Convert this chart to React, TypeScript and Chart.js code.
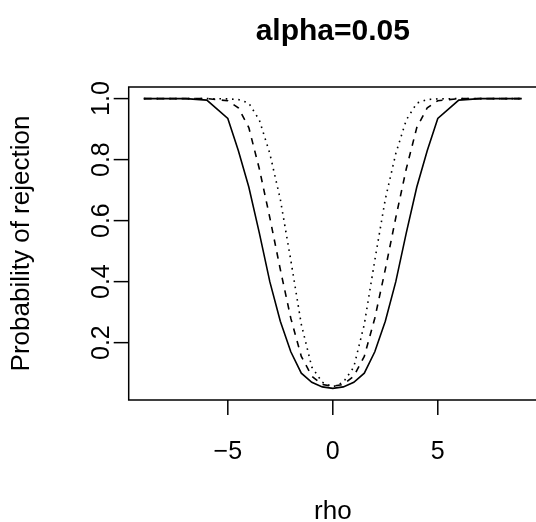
import React, { useEffect, useRef } from "react";
import { Chart, registerables } from "chart.js";

Chart.register(...registerables);

// ---- data ----
const rho = [-9, -8, -7, -6, -5, -4.5, -4, -3.5, -3, -2.5, -2, -1.5, -1, -0.5, 0, 0.5, 1, 1.5, 2, 2.5, 3, 3.5, 4, 4.5, 5, 6, 7, 8, 9];
const powerSolid = [1, 1, 1, 0.995, 0.935, 0.83, 0.71, 0.56, 0.4, 0.27, 0.17, 0.1, 0.07, 0.055, 0.05, 0.055, 0.07, 0.1, 0.17, 0.27, 0.4, 0.56, 0.71, 0.83, 0.935, 0.995, 1, 1, 1];
const powerDashed = [1, 1, 1, 1, 0.993, 0.97, 0.905, 0.77, 0.61, 0.44, 0.28, 0.155, 0.09, 0.063, 0.057, 0.063, 0.09, 0.155, 0.28, 0.44, 0.61, 0.77, 0.905, 0.97, 0.993, 1, 1, 1, 1];
const powerDotted = [1, 1, 1, 1, 0.999, 0.997, 0.985, 0.93, 0.82, 0.67, 0.47, 0.26, 0.12, 0.07, 0.055, 0.07, 0.12, 0.26, 0.47, 0.67, 0.82, 0.93, 0.985, 0.997, 0.999, 1, 1, 1, 1];

const xTicks = [-5, 0, 5];
const xTickLabels = ["\u22125", "0", "5"];
const yTicks = [0.2, 0.4, 0.6, 0.8, 1.0];
const yTickLabels = ["0.2", "0.4", "0.6", "0.8", "1.0"];

const titleText = "alpha=0.05";
const xTitle = "rho";
const yTitle = "Probability of rejection";

// ---- layout ----
const CW = 560;
const CH = 522;
const FONT = '"Liberation Sans", Arial, Helvetica, sans-serif';

const allY = [...powerSolid, ...powerDashed, ...powerDotted];
const xMinD = Math.min(...rho);
const xMaxD = Math.max(...rho);
const yMinD = Math.min(...allY);
const yMaxD = Math.max(...allY);
const xPad = (xMaxD - xMinD) * 0.04;
const yPad = (yMaxD - yMinD) * 0.04;

const rAxesPlugin = {
  id: "rAxes",
  afterDraw(chart: any) {
    const { ctx, chartArea } = chart;
    const xs = chart.scales.x;
    const ys = chart.scales.y;
    const { left, right, top, bottom } = chartArea;
    ctx.save();
    ctx.strokeStyle = "#000";
    ctx.fillStyle = "#000";
    ctx.lineWidth = 1.5;
    ctx.setLineDash([]);
    ctx.strokeRect(left, top, right - left, bottom - top);

    // x ticks
    ctx.font = `25px ${FONT}`;
    ctx.textAlign = "center";
    ctx.textBaseline = "alphabetic";
    xTicks.forEach((v, i) => {
      const px = xs.getPixelForValue(v);
      ctx.beginPath();
      ctx.moveTo(px, bottom);
      ctx.lineTo(px, bottom + 15);
      ctx.stroke();
      ctx.fillText(xTickLabels[i], px, bottom + 59);
    });

    // y ticks
    yTicks.forEach((v, i) => {
      const py = ys.getPixelForValue(v);
      ctx.beginPath();
      ctx.moveTo(left - 15, py);
      ctx.lineTo(left, py);
      ctx.stroke();
      ctx.save();
      ctx.translate(left - 20, py);
      ctx.rotate(-Math.PI / 2);
      ctx.fillText(yTickLabels[i], 0, 0);
      ctx.restore();
    });

    const cx = (left + right) / 2;
    const cy = (top + bottom) / 2;

    // axis titles
    ctx.font = `26px ${FONT}`;
    ctx.fillText(xTitle, cx, bottom + 119);
    ctx.save();
    ctx.translate(29, cy);
    ctx.rotate(-Math.PI / 2);
    ctx.fillText(yTitle, 0, 0);
    ctx.restore();

    // main title
    ctx.font = `bold 30px ${FONT}`;
    ctx.fillText(titleText, cx, 40);
    ctx.restore();
  },
};

export default function App() {
  const ref = useRef<HTMLCanvasElement | null>(null);

  useEffect(() => {
    if (!ref.current) return;
    const mk = (data: number[], dash: number[]) => ({
      data: rho.map((x, i) => ({ x, y: data[i] })),
      borderColor: "#000",
      borderWidth: 1.6,
      borderDash: dash,
      borderCapStyle: "butt" as const,
      pointRadius: 0,
      tension: 0,
      fill: false,
    });
    const chart = new Chart(ref.current, {
      type: "line",
      data: {
        datasets: [
          mk(powerSolid, []),
          mk(powerDashed, [6.5, 6.5]),
          mk(powerDotted, [1.6, 4.7]),
        ],
      },
      options: {
        animation: false,
        responsive: false,
        devicePixelRatio: 1,
        layout: { padding: { left: 128.7, right: CW - 536.9, top: 87, bottom: CH - 400 } },
        plugins: { legend: { display: false }, tooltip: { enabled: false } },
        scales: {
          x: { type: "linear", display: false, min: xMinD - xPad, max: xMaxD + xPad },
          y: { type: "linear", display: false, min: yMinD - yPad, max: yMaxD + yPad },
        },
      },
      plugins: [rAxesPlugin],
    });
    return () => chart.destroy();
  }, []);

  return (
    <div style={{ position: "absolute", left: 0, top: 0, width: 536, height: 522, overflow: "hidden", background: "#fff" }}>
      <canvas ref={ref} width={CW} height={CH} style={{ display: "block", width: CW, height: CH }} />
    </div>
  );
}
